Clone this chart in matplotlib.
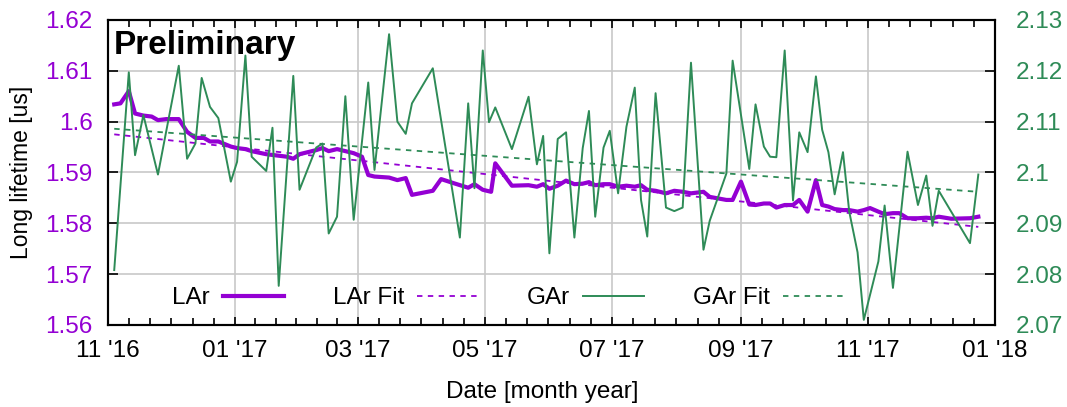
"""
LAr / GAr long lifetime vs date, with linear fits (twin y axes, gnuplot-like look).
"""

import matplotlib
matplotlib.use("Agg")
import matplotlib.pyplot as plt
import matplotlib.dates as mdates
from matplotlib.ticker import FuncFormatter, FixedLocator
import numpy as np
import pandas as pd

PURPLE = "#9400d3"
GREEN  = "#2e8b57"

# LAr long lifetime [us] (left axis)
LAR_DATES = [
    "2016-11-04", "2016-11-07", "2016-11-11", "2016-11-14", "2016-11-18", "2016-11-22", "2016-11-25", "2016-11-29",
    "2016-12-05", "2016-12-09", "2016-12-13", "2016-12-17", "2016-12-20", "2016-12-24", "2016-12-30",
    "2017-01-02", "2017-01-06", "2017-01-09", "2017-01-16", "2017-01-22", "2017-01-26", "2017-01-29",
    "2017-02-01", "2017-02-09", "2017-02-12", "2017-02-15", "2017-02-19", "2017-02-23", "2017-02-27",
    "2017-03-03", "2017-03-06", "2017-03-09", "2017-03-16", "2017-03-20", "2017-03-24", "2017-03-27",
    "2017-04-06", "2017-04-10", "2017-04-16", "2017-04-23", "2017-04-26", "2017-04-30",
    "2017-05-04", "2017-05-06", "2017-05-14", "2017-05-22", "2017-05-26", "2017-05-29",
    "2017-06-01", "2017-06-05", "2017-06-09", "2017-06-13", "2017-06-17", "2017-06-20", "2017-06-23", "2017-06-27", "2017-06-30",
    "2017-07-04", "2017-07-08", "2017-07-12", "2017-07-15", "2017-07-18", "2017-07-22", "2017-07-27", "2017-07-31",
    "2017-08-04", "2017-08-08", "2017-08-14", "2017-08-17", "2017-08-21", "2017-08-25", "2017-08-28",
    "2017-09-01", "2017-09-05", "2017-09-08", "2017-09-12", "2017-09-15", "2017-09-18", "2017-09-22", "2017-09-26", "2017-09-29",
    "2017-10-03", "2017-10-07", "2017-10-10", "2017-10-13", "2017-10-16", "2017-10-20", "2017-10-23", "2017-10-27", "2017-10-30",
    "2017-11-02", "2017-11-06", "2017-11-09", "2017-11-13", "2017-11-16", "2017-11-20", "2017-11-25", "2017-11-29",
    "2017-12-02", "2017-12-05", "2017-12-11", "2017-12-20", "2017-12-24",
]
LAR_VALS = [
    1.6034, 1.6036, 1.6060, 1.6016, 1.6012, 1.6010, 1.6003, 1.6005,
    1.6005, 1.5980, 1.5968, 1.5968, 1.5961, 1.5961, 1.5951,
    1.5948, 1.5946, 1.5942, 1.5936, 1.5933, 1.5931, 1.5927,
    1.5936, 1.5944, 1.5948, 1.5942, 1.5946, 1.5942, 1.5938,
    1.5931, 1.5895, 1.5892, 1.5890, 1.5885, 1.5889, 1.5856,
    1.5864, 1.5887, 1.5879, 1.5870, 1.5877, 1.5866,
    1.5862, 1.5918, 1.5874, 1.5875, 1.5872, 1.5877,
    1.5868, 1.5874, 1.5884, 1.5877, 1.5878, 1.5881, 1.5875, 1.5877, 1.5877,
    1.5872, 1.5874, 1.5872, 1.5875, 1.5866, 1.5864, 1.5859, 1.5864,
    1.5862, 1.5859, 1.5862, 1.5852, 1.5849, 1.5846, 1.5846,
    1.5882, 1.5837, 1.5836, 1.5839, 1.5839, 1.5831, 1.5836, 1.5836, 1.5846,
    1.5823, 1.5885, 1.5836, 1.5833, 1.5828, 1.5826, 1.5826, 1.5823, 1.5826,
    1.5830, 1.5823, 1.5818, 1.5820, 1.5820, 1.5810, 1.5810, 1.5811,
    1.5810, 1.5813, 1.5809, 1.5810, 1.5813,
]

# GAr long lifetime [us] (right axis)
GAR_DATES = [
    "2016-11-04", "2016-11-11", "2016-11-14", "2016-11-18", "2016-11-25", "2016-12-05", "2016-12-09", "2016-12-13",
    "2016-12-16", "2016-12-20", "2016-12-24", "2016-12-30",
    "2017-01-02", "2017-01-06", "2017-01-09", "2017-01-16", "2017-01-19", "2017-01-22", "2017-01-29",
    "2017-02-01", "2017-02-09", "2017-02-12", "2017-02-15", "2017-02-19", "2017-02-23", "2017-02-27",
    "2017-03-06", "2017-03-09", "2017-03-16", "2017-03-20", "2017-03-24", "2017-03-27",
    "2017-04-06", "2017-04-19", "2017-04-23", "2017-04-26", "2017-04-30",
    "2017-05-03", "2017-05-06", "2017-05-14", "2017-05-22", "2017-05-26", "2017-05-29",
    "2017-06-01", "2017-06-05", "2017-06-09", "2017-06-13", "2017-06-17", "2017-06-20", "2017-06-23", "2017-06-27", "2017-06-30",
    "2017-07-04", "2017-07-08", "2017-07-12", "2017-07-15", "2017-07-18", "2017-07-22", "2017-07-27", "2017-07-31",
    "2017-08-04", "2017-08-08", "2017-08-14", "2017-08-17", "2017-08-25", "2017-08-28",
    "2017-09-05", "2017-09-08", "2017-09-12", "2017-09-15", "2017-09-18", "2017-09-22", "2017-09-26", "2017-09-29",
    "2017-10-03", "2017-10-07", "2017-10-10", "2017-10-13", "2017-10-16", "2017-10-20", "2017-10-23", "2017-10-27", "2017-10-30",
    "2017-11-06", "2017-11-09", "2017-11-13", "2017-11-20", "2017-11-25", "2017-11-29",
    "2017-12-02", "2017-12-05", "2017-12-20", "2017-12-24",
]
GAR_VALS = [
    2.0808, 2.1197, 2.1034, 2.1113, 2.0996, 2.1210, 2.1027, 2.1057,
    2.1186, 2.1129, 2.1107, 2.0982,
    2.1021, 2.1230, 2.1031, 2.1003, 2.1088, 2.0777, 2.1190,
    2.0966, 2.1049, 2.1057, 2.0880, 2.0913, 2.1150, 2.0907,
    2.1177, 2.1005, 2.1272, 2.1100, 2.1076, 2.1136,
    2.1205, 2.0872, 2.1136, 2.0969, 2.1240,
    2.1099, 2.1128, 2.1046, 2.1149, 2.1016, 2.1072,
    2.0841, 2.1066, 2.1079, 2.0872, 2.1048, 2.1121, 2.0913, 2.1049, 2.1082,
    2.0959, 2.1090, 2.1167, 2.0946, 2.0874, 2.1156, 2.0931, 2.0924,
    2.0931, 2.1216, 2.0848, 2.0905, 2.0998, 2.1220,
    2.1007, 2.1134, 2.1051, 2.1031, 2.1030, 2.1240, 2.0945, 2.1079,
    2.1040, 2.1189, 2.1084, 2.1040, 2.0957, 2.1040, 2.0923, 2.0843, 2.0710,
    2.0825, 2.0935, 2.0773, 2.1041, 2.0936, 2.0994,
    2.0895, 2.0964, 2.0861, 2.0996,
]

# linear fits, end points
FIT_DATES = ["2016-11-04", "2017-12-24"]
LAR_FIT   = [1.5975, 1.5793]
GAR_FIT   = [2.1086, 2.0962]

X_RANGE   = ["2016-11-01", "2018-01-01"]
LAR_RANGE = (1.56, 1.62)
GAR_RANGE = (2.07, 2.13)

CHART_FILE = "out.png"


def g_fmt(v, _pos):
    return f"{v:g}"


def plot_lifetime() -> None:
    plt.rcParams["font.family"] = ["Liberation Sans", "DejaVu Sans"]
    fs = 17.5

    fig = plt.figure(figsize=(10.67, 4.07), dpi=100)
    ax = fig.add_axes([0.1012, 0.2015, 0.8313, 0.7494])
    ax2 = ax.twinx()

    lar_t = pd.to_datetime(LAR_DATES)
    gar_t = pd.to_datetime(GAR_DATES)
    fit_t = pd.to_datetime(FIT_DATES)

    h_lar, = ax.plot(lar_t, LAR_VALS, color=PURPLE, lw=3.0, label="LAr",
                     solid_joinstyle="round")
    h_lfit, = ax.plot(fit_t, LAR_FIT, color=PURPLE, lw=1.3, dashes=(3, 3), label="LAr Fit")
    h_gar, = ax2.plot(gar_t, GAR_VALS, color=GREEN, lw=1.4, label="GAr")
    h_gfit, = ax2.plot(fit_t, GAR_FIT, color=GREEN, lw=1.3, dashes=(3, 3), label="GAr Fit")

    x0, x1 = pd.to_datetime(X_RANGE)
    ax.set_xlim(x0, x1)
    ax.set_ylim(*LAR_RANGE)
    ax2.set_ylim(*GAR_RANGE)

    # x ticks: every 2 months, 6 minor steps between
    majors = pd.date_range(x0, x1, freq="2MS")
    major_num = mdates.date2num(majors)
    minor_num = np.concatenate([np.linspace(a, b, 7)[1:-1]
                                for a, b in zip(major_num[:-1], major_num[1:])])
    ax.xaxis.set_major_locator(FixedLocator(major_num))
    ax.xaxis.set_minor_locator(FixedLocator(minor_num))
    ax.xaxis.set_major_formatter(mdates.DateFormatter("%m '%y"))

    ax.set_yticks(np.linspace(*LAR_RANGE, 7))
    ax2.set_yticks(np.linspace(*GAR_RANGE, 7))
    ax.yaxis.set_major_formatter(FuncFormatter(g_fmt))
    ax2.yaxis.set_major_formatter(FuncFormatter(g_fmt))

    ax.tick_params(axis="x", which="both", direction="in", top=True, bottom=True,
                   labelsize=fs, pad=11, width=1.2)
    ax.tick_params(axis="x", which="major", length=6)
    ax.tick_params(axis="x", which="minor", length=5)
    ax.tick_params(axis="y", direction="in", left=True, right=False, length=7,
                   width=1.2, labelsize=fs, labelcolor=PURPLE, pad=11)
    ax2.tick_params(axis="y", direction="in", right=True, length=7, width=1.2,
                    labelsize=fs, labelcolor=GREEN, pad=15)

    ax.grid(True, which="major", color="#c8c8c8", lw=1.2)
    for a in (ax, ax2):
        for s in a.spines.values():
            s.set_linewidth(1.5)

    ax.set_ylabel("Long lifetime [us]", fontsize=16.5)
    ax.yaxis.set_label_coords(-0.085, 0.5)
    ax.set_xlabel("Date [month year]", fontsize=17.5)
    ax.xaxis.set_label_coords(0.49, -0.185)

    ax.text(0.006, 0.968, "Preliminary", transform=ax.transAxes, fontsize=24,
            fontweight="bold", va="top", ha="left")

    ax2.legend([h_lar, h_lfit, h_gar, h_gfit], ["LAr", "LAr Fit", "GAr", "GAr Fit"],
               ncol=4, loc="center", bbox_to_anchor=(0.451, 0.088), frameon=False,
               markerfirst=False, fontsize=fs, handlelength=2.5, handletextpad=0.55,
               columnspacing=2.0)

    fig.savefig(CHART_FILE, dpi=100)


def main() -> None:
    plot_lifetime()


if __name__ == "__main__":
    main()
